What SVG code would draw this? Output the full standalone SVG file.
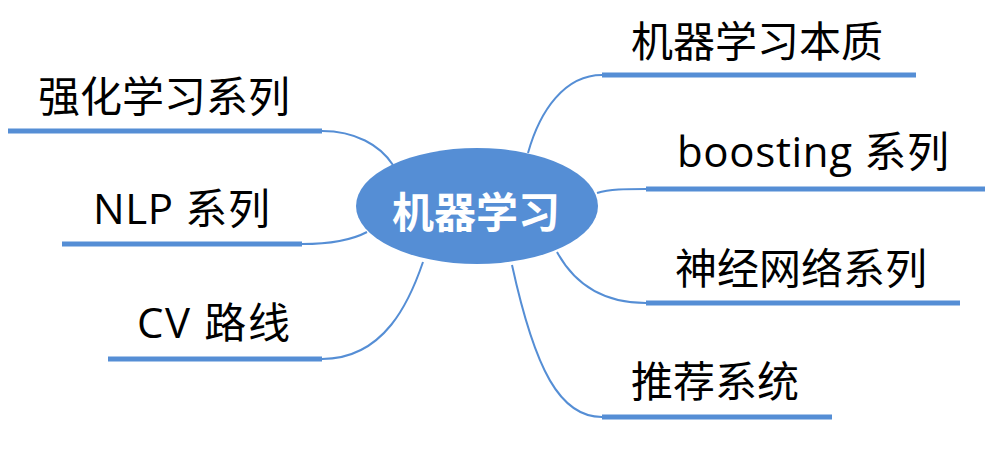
<svg xmlns="http://www.w3.org/2000/svg" width="995" height="452" viewBox="0 0 995 452">
<style>
.ul{stroke:#558ED5;stroke-width:5;fill:none}
.cn{stroke:#558ED5;stroke-width:2;fill:none}
.lb{font-family:"Noto Sans CJK SC","Noto Sans",sans-serif;font-size:42px;fill:#000}
.mx{font-family:"Open Sans","Noto Sans CJK SC",sans-serif;font-size:42px;fill:#000}
.ct{font-family:"Noto Sans CJK SC","Noto Sans",sans-serif;font-size:42px;font-weight:bold;fill:#fff}
</style>
<rect width="995" height="452" fill="#fff"/>
<g id="connectors">
<path class="cn" d="M602,75 C565,75 540,110 528,153"/>
<path class="cn" d="M646,189 C625,189 610,189 597,193"/>
<path class="cn" d="M646,303 C605,303 575,285 557,252"/>
<path class="cn" d="M602,417 C560,417 535,370 512,265"/>
<path class="cn" d="M322,131 C355,131 380,145 393,165"/>
<path class="cn" d="M302,244 C330,244 352,240 367,232"/>
<path class="cn" d="M322,359 C385,359 410,300 423,262"/>
</g>
<g id="center">
<ellipse cx="477" cy="206" rx="121" ry="58" fill="#558ED5"/>
<text class="ct" x="476" y="228" text-anchor="middle">机器学习</text>
</g>
<g id="n-benzhi">
<line class="ul" x1="602" y1="75" x2="916" y2="75"/>
<text class="lb" x="631" y="57">机器学习本质</text>
</g>
<g id="n-boosting">
<line class="ul" x1="646" y1="189" x2="985" y2="189"/>
<text class="mx" x="677" y="167" textLength="272">boosting 系列</text>
</g>
<g id="n-nn">
<line class="ul" x1="646" y1="303" x2="960" y2="303"/>
<text class="lb" x="675" y="284">神经网络系列</text>
</g>
<g id="n-rec">
<line class="ul" x1="602" y1="417" x2="832" y2="417"/>
<text class="lb" x="631" y="397">推荐系统</text>
</g>
<g id="n-rl">
<line class="ul" x1="8" y1="131" x2="322" y2="131"/>
<text class="lb" x="38" y="112">强化学习系列</text>
</g>
<g id="n-nlp">
<line class="ul" x1="62" y1="244" x2="302" y2="244"/>
<text class="mx" x="93" y="224" textLength="177">NLP 系列</text>
</g>
<g id="n-cv">
<line class="ul" x1="108" y1="359" x2="322" y2="359"/>
<text class="mx" x="137" y="338" textLength="153">CV 路线</text>
</g>
</svg>
